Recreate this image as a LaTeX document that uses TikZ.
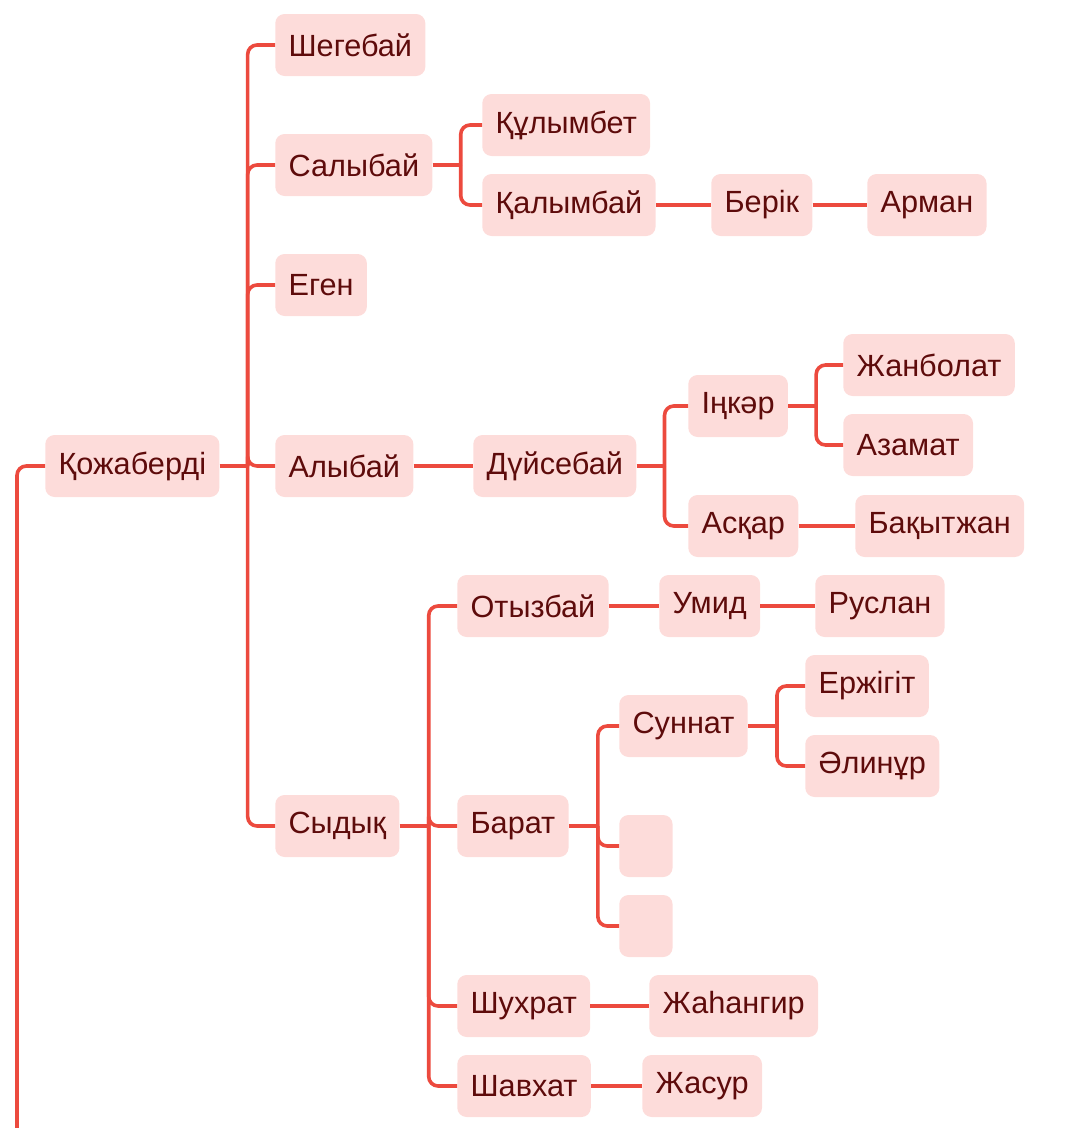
\documentclass[tikz,border=0pt]{standalone}
\usepackage{fontspec}
\setmainfont{Liberation Sans}
\definecolor{boxfill}{HTML}{FDDCDA}
\definecolor{linkred}{HTML}{EC4A3E}
\definecolor{namered}{HTML}{5E0B0B}
\tikzset{
  person/.style={anchor=west, fill=boxfill, rounded corners=7pt, text=namered,
    font=\fontsize{23}{27}\selectfont, inner xsep=10pt, minimum height=46.5pt},
  blank/.style={person, minimum width=40pt},
  link/.style={draw=linkred, line width=2.7pt},
  branch/.style={link, rounded corners=7pt}
}
\begin{document}
\begin{tikzpicture}[x=0.75pt,y=-0.75pt]
\useasboundingbox (0,0) rectangle (1080,1128);
% people
\node[person] (kozh) at (45,466) {Қожаберді};
\node[person] (sheg) at (275,45) {Шегебай};
\node[person] (saly) at (275,165) {Салыбай};
\node[person] (egen) at (275,285) {Еген};
\node[person] (aly) at (275,466) {Алыбай};
\node[person] (syd) at (275,826) {Сыдық};
\node[person] (kuly) at (482,125) {Құлымбет};
\node[person] (kaly) at (482,205) {Қалымбай};
\node[person] (berik) at (711,205) {Берік};
\node[person] (arman) at (867,205) {Арман};
\node[person] (duis) at (473,466) {Дүйсебай};
\node[person] (inkar) at (688,406) {Іңкәр};
\node[person] (zhanb) at (843,365) {Жанболат};
\node[person] (azam) at (843,445) {Азамат};
\node[person] (askar) at (688,526) {Асқар};
\node[person] (bakyt) at (855,526) {Бақытжан};
\node[person] (otyz) at (457,606) {Отызбай};
\node[person] (umid) at (659,606) {Умид};
\node[person] (rusl) at (815,606) {Руслан};
\node[person] (barat) at (457,826) {Барат};
\node[person] (sunn) at (619,726) {Суннат};
\node[person] (erzh) at (805,686) {Ержігіт};
\node[person] (alin) at (805,766) {Әлинұр};
\node[blank] (blankA) at (619,846) {};
\node[blank] (blankB) at (619,926) {};
\node[person] (shuh) at (457,1006) {Шухрат};
\node[person] (zhah) at (649,1006) {Жаһангир};
\node[person] (shav) at (457,1086) {Шавхат};
\node[person] (zhas) at (642,1086) {Жасур};
\coordinate (down) at (17,1140);
% links
\draw[branch] (kozh.west) -| (down);
\draw[link] (kozh.east) -- ++(28,0) coordinate (kozhfork);
\foreach \k in {sheg,saly,egen,aly,syd}
  \draw[branch] (kozhfork) |- (\k.west);
\draw[link] (saly.east) -- ++(28,0) coordinate (salyfork);
\foreach \k in {kuly,kaly}
  \draw[branch] (salyfork) |- (\k.west);
\draw[link] (kaly) -- (berik);
\draw[link] (berik) -- (arman);
\draw[link] (aly) -- (duis);
\draw[link] (duis.east) -- ++(28,0) coordinate (duisfork);
\foreach \k in {inkar,askar}
  \draw[branch] (duisfork) |- (\k.west);
\draw[link] (inkar.east) -- ++(28,0) coordinate (inkarfork);
\foreach \k in {zhanb,azam}
  \draw[branch] (inkarfork) |- (\k.west);
\draw[link] (askar) -- (bakyt);
\draw[link] (syd.east) -- ++(29,0) coordinate (sydfork);
\foreach \k in {otyz,barat,shuh,shav}
  \draw[branch] (sydfork) |- (\k.west);
\draw[link] (otyz) -- (umid);
\draw[link] (umid) -- (rusl);
\draw[link] (barat.east) -- ++(29,0) coordinate (baratfork);
\foreach \k in {sunn,blankA,blankB}
  \draw[branch] (baratfork) |- (\k.west);
\draw[link] (sunn.east) -- ++(29,0) coordinate (sunnfork);
\foreach \k in {erzh,alin}
  \draw[branch] (sunnfork) |- (\k.west);
\draw[link] (shuh) -- (zhah);
\draw[link] (shav) -- (zhas);
\end{tikzpicture}
\end{document}
